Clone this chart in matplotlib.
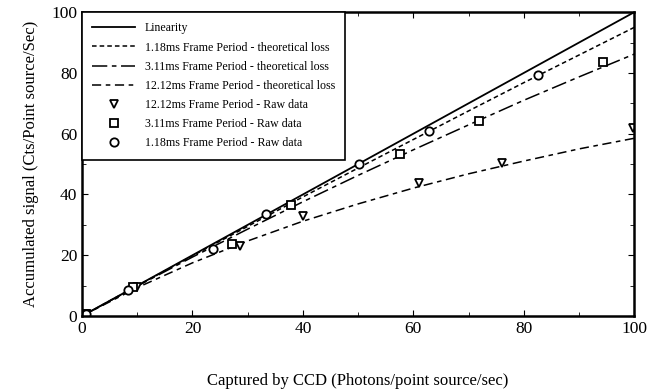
import matplotlib.pyplot as plt
import numpy as np

plt.rcParams['font.family'] = ['Liberation Serif', 'DejaVu Serif']

# theoretical curves
x_curve = [0, 10, 20, 30, 40, 50, 60, 70, 80, 90, 100]
lin = [0, 10, 20, 30, 40, 50, 60, 70, 80, 90, 100]
loss_118 = [0, 9.95, 19.8, 29.5, 39.2, 48.7, 58.1, 67.5, 76.8, 85.9, 95.0]
loss_311 = [0, 9.84, 19.4, 28.6, 37.6, 46.3, 54.7, 62.9, 71.0, 78.7, 86.2]
loss_1212 = [0, 9.34, 17.5, 24.7, 31.2, 36.9, 42.1, 46.8, 51.0, 55.0, 58.5]

# raw data points
tri_x = [0.8, 10.0, 28.6, 40.0, 61.0, 76.1, 99.8]
tri_y = [0.8, 9.5, 23.0, 32.9, 43.8, 50.3, 61.8]
sq_x = [0.8, 9.3, 27.2, 37.9, 57.6, 71.9, 94.3]
sq_y = [0.8, 9.5, 23.7, 36.5, 53.3, 64.2, 83.7]
circ_x = [0.8, 8.3, 23.7, 33.3, 50.2, 62.9, 82.6]
circ_y = [0.8, 8.5, 22.0, 33.5, 50.0, 60.9, 79.3]

fig = plt.figure(figsize=(6.69, 3.91), dpi=100)
ax = fig.add_axes([0.1226, 0.1918, 0.8254, 0.777])

ax.plot(x_curve, lin, 'k-', lw=1.3, label='Linearity')
ax.plot(x_curve, loss_118, color='k', lw=1.1, ls=(0, (3, 2)),
        label='1.18ms Frame Period - theoretical loss')
ax.plot(x_curve, loss_311, color='k', lw=1.1, ls=(0, (10, 3, 3, 3)),
        label='3.11ms Frame Period - theoretical loss')
ax.plot(x_curve, loss_1212, color='k', lw=1.1, ls=(0, (6, 3, 3, 3)),
        label='12.12ms Frame Period - theoretical loss')
ax.plot(tri_x, tri_y, 'v', mfc='white', mec='k', mew=1.3, ms=6,
        label='12.12ms Frame Period - Raw data')
ax.plot(sq_x, sq_y, 's', mfc='white', mec='k', mew=1.3, ms=6,
        label='3.11ms Frame Period - Raw data')
ax.plot(circ_x, circ_y, 'o', mfc='white', mec='k', mew=1.3, ms=6,
        label='1.18ms Frame Period - Raw data')

ax.set_xlim(0, 100)
ax.set_ylim(0, 100)
ax.set_xticks([0, 20, 40, 60, 80, 100])
ax.set_yticks([0, 20, 40, 60, 80, 100])
ax.set_xticks(np.arange(0, 101, 10), minor=True)
ax.set_yticks(np.arange(0, 101, 10), minor=True)
ax.tick_params(which='both', direction='in', top=True, right=True, labelsize=12.5)
ax.tick_params(which='major', length=4)
ax.tick_params(which='minor', length=3)
for sp in ax.spines.values():
    sp.set_linewidth(1.8)

ax.set_xlabel('Captured by CCD (Photons/point source/sec)', fontsize=12, labelpad=26)
ax.set_ylabel('Accumulated signal (Cts/Point source/Sec)', fontsize=12, labelpad=9)

leg = ax.legend(loc='upper left', bbox_to_anchor=(0, 1), borderaxespad=0,
                fontsize=8.6, fancybox=False, edgecolor='k', framealpha=1,
                handlelength=3.6, handletextpad=0.8, labelspacing=0.6,
                borderpad=0.85)
leg.get_frame().set_linewidth(1.2)

fig.savefig('out.png', dpi=100)
